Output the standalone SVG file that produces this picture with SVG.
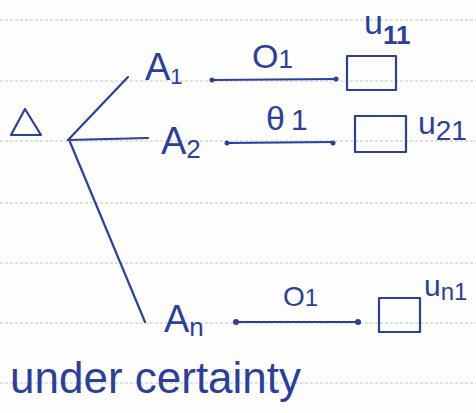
<svg xmlns="http://www.w3.org/2000/svg" width="476" height="413" viewBox="0 0 476 413">
<style>
.rule{stroke:#b9c9bc;stroke-width:1;stroke-dasharray:3 2}
.ink{stroke:#2c3f9b;stroke-width:2.2;fill:none;stroke-linecap:round;stroke-linejoin:round}
.t{fill:#2c3f9b;font-family:"Liberation Sans",Arial,sans-serif}
.dot{fill:#2c3f9b}
</style>
<rect width="476" height="413" fill="#fdfdfb"/>
<g id="paper">
<line class="rule" x1="0" y1="20" x2="476" y2="20"/>
<line class="rule" x1="0" y1="81" x2="476" y2="81"/>
<line class="rule" x1="0" y1="141" x2="476" y2="141"/>
<line class="rule" x1="0" y1="203" x2="476" y2="203"/>
<line class="rule" x1="0" y1="263" x2="476" y2="263"/>
<line class="rule" x1="0" y1="323" x2="476" y2="323"/>
<line class="rule" x1="0" y1="383" x2="476" y2="383"/>
</g>
<g id="decision">
<path class="ink" d="M25 109 L11 135 L41 135 Z"/>
</g>
<g id="connectors">
<path class="ink" d="M68 140 L128 77"/>
<path class="ink" d="M68 140 L148 138"/>
<path class="ink" d="M70 142 L145 322"/>
<path class="ink" d="M212 80 L335 79"/>
<circle class="dot" cx="212" cy="80" r="2.5"/><circle class="dot" cx="336" cy="79" r="2.5"/>
<path class="ink" d="M227 143 L333 142"/>
<circle class="dot" cx="227" cy="143" r="2.5"/><circle class="dot" cx="333" cy="143" r="2.5"/>
<path class="ink" d="M236 322 L358 322"/>
<circle class="dot" cx="236" cy="322" r="3"/><circle class="dot" cx="358" cy="322" r="3"/>
</g>
<g id="A1"><text class="t" x="145" y="80" font-size="38">A<tspan font-size="22" dy="4">1</tspan></text></g>
<g id="A2"><text class="t" x="161" y="154" font-size="38">A<tspan font-size="26" dy="4">2</tspan></text></g>
<g id="An"><text class="t" x="164" y="332" font-size="38">A<tspan font-size="26" dy="4">n</tspan></text></g>
<g id="o1a"><text class="t" x="252" y="68" font-size="34">O<tspan font-size="26">1</tspan></text></g>
<g id="o1b"><text class="t" x="266" y="130" font-size="34">θ<tspan font-size="30" dx="6">1</tspan></text></g>
<g id="o1c"><text class="t" x="283" y="306" font-size="28">O<tspan font-size="24">1</tspan></text></g>
<g id="u11"><rect class="ink" x="347" y="56" width="49" height="34"/><text class="t" x="364" y="34" font-size="34">u<tspan font-size="26" font-weight="bold" dy="10">11</tspan></text></g>
<g id="u21"><rect class="ink" x="355" y="116" width="51" height="36"/><text class="t" x="418" y="134" font-size="32">u<tspan font-size="28" dy="6">21</tspan></text></g>
<g id="un1"><rect class="ink" x="379" y="298" width="41" height="34"/><text class="t" x="424" y="296" font-size="30">u<tspan font-size="24" dy="4">n1</tspan></text></g>
<g id="caption"><text class="t" x="10" y="393" font-size="44">under certainty</text></g>
</svg>
